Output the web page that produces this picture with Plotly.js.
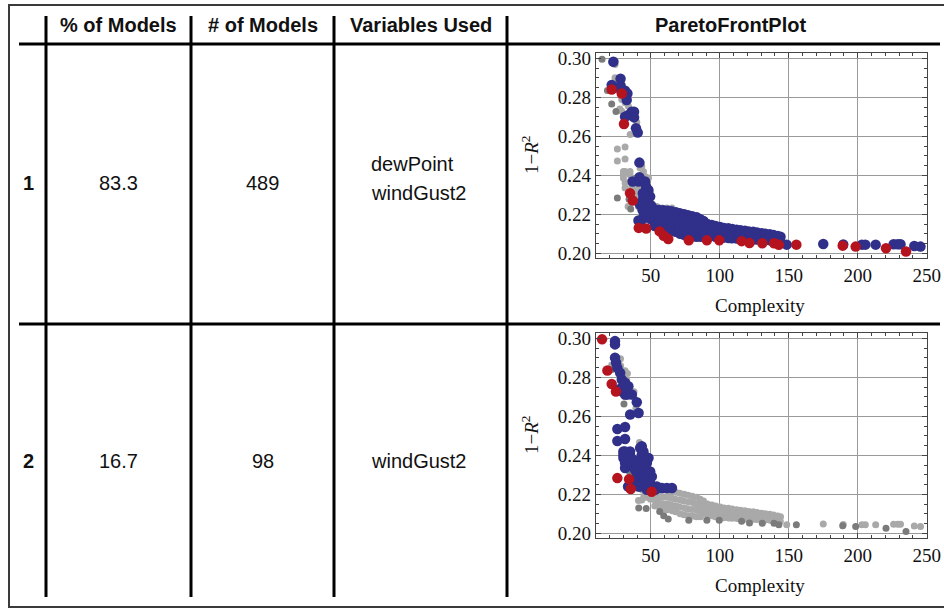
<!DOCTYPE html>
<html><head><meta charset="utf-8">
<script src="https://cdn.plot.ly/plotly-3.0.1.min.js"></script>
<style>html,body{margin:0;padding:0;background:#fff}#chart{width:944px;height:609px}</style>
</head><body><div id="chart"></div>
<script>
// ---------- table content ----------
const headers = ['% of Models', '# of Models', 'Variables Used', 'ParetoFrontPlot'];
const rowIds = ['1', '2'];
const pctModels = ['83.3', '16.7'];
const numModels = ['489', '98'];
const variablesUsed = [['dewPoint', 'windGust2'], ['windGust2']];
const xTickVals = [50, 100, 150, 200, 250];
const yTickVals = [0.20, 0.22, 0.24, 0.26, 0.28, 0.30];

// ---------- set A: models using dewPoint + windGust2 ----------
// Pareto front points (red in plot 1)
const aFrontX = [21.6, 28.9, 30.5, 34.9, 36.9, 41.2, 46.6, 56.4, 59.3, 62.6, 77.5, 90.6, 99.6, 115.8, 121.5, 130.8, 139.3, 142.8, 155.5, 189.1, 198.5, 220.5, 235.0];
const aFrontY = [0.2840, 0.2820, 0.2663, 0.2308, 0.2270, 0.2130, 0.2127, 0.2112, 0.2090, 0.2073, 0.2066, 0.2066, 0.2066, 0.2062, 0.2052, 0.2051, 0.2051, 0.2043, 0.2044, 0.2039, 0.2034, 0.2026, 0.2009];
// other models (navy in plot 1)
const aX = [22.8, 21.6, 24.0, 28.1, 28.0, 31.3, 33.0, 32.5, 36.2, 37.8, 33.7, 31.3, 37.8, 39.2, 40.5, 41.7, 41.0, 36.8, 41.7, 45.8, 46.5, 48.2, 49.4, 44.2, 44.6, 43.4, 42.2, 41.0, 43.4,
  44.5, 44.0, 45.0, 47.3, 47.0, 47.5, 46.8, 50.2, 50.5, 49.8,
  53.0, 52.6, 53.4, 52.8, 56.0, 56.4, 55.8, 56.2, 59.0, 58.6, 59.3, 58.8,
  62.2, 61.8, 62.4, 62.0, 65.0, 65.3, 64.8, 65.5, 68.2, 67.8, 68.4, 68.0,
  71.0, 71.4, 70.8, 71.2, 74.2, 73.8, 74.4, 74.0, 77.0, 77.4, 76.8, 77.2,
  80.0, 80.4, 79.8, 80.2, 83.2, 82.8, 83.4, 83.0, 85.8, 86.2, 85.6, 86.0,
  88.2, 87.8, 88.4, 91.0, 91.4, 90.8, 94.2, 93.8, 94.4, 97.0, 97.4, 96.8,
  100.2, 99.8, 100.4, 103.0, 103.4, 102.8, 106.2, 105.8, 106.4, 109.0, 109.4, 108.8,
  112.2, 111.8, 112.4, 115.0, 115.4, 114.8, 118.2, 117.8, 118.4, 121.0, 121.4, 120.8,
  124.2, 123.8, 124.4, 127.0, 127.4, 126.8, 130.2, 129.8, 130.4, 133.0, 133.4, 132.8,
  136.2, 135.8, 136.4, 139.0, 139.4, 138.8, 142.0, 142.4, 141.8, 144.0, 143.8,
  148.5, 175.0, 189.5, 203.0, 205.5, 213.0, 226.0, 229.0, 231.0, 241.0, 245.5];
const aY = [0.2983, 0.2863, 0.2850, 0.2860, 0.2895, 0.2834, 0.2820, 0.2786, 0.2726, 0.2726, 0.2709, 0.2700, 0.2697, 0.2641, 0.2619, 0.2465, 0.2368, 0.2368, 0.2390, 0.2368, 0.2342, 0.2325, 0.2291, 0.2308, 0.2291, 0.2265, 0.2248, 0.2168, 0.2171,
  0.2255, 0.2220, 0.2190, 0.2290, 0.2255, 0.2220, 0.2185, 0.2245, 0.2210, 0.2175,
  0.2225, 0.2195, 0.2165, 0.2140, 0.2222, 0.2190, 0.2160, 0.2135, 0.2220, 0.2185, 0.2150, 0.2125,
  0.2218, 0.2185, 0.2150, 0.2120, 0.2215, 0.2180, 0.2145, 0.2115, 0.2210, 0.2175, 0.2140, 0.2110,
  0.2205, 0.2170, 0.2135, 0.2100, 0.2200, 0.2165, 0.2130, 0.2095, 0.2195, 0.2160, 0.2125, 0.2090,
  0.2190, 0.2158, 0.2122, 0.2088, 0.2185, 0.2150, 0.2118, 0.2085, 0.2175, 0.2145, 0.2115, 0.2085,
  0.2165, 0.2135, 0.2105, 0.2150, 0.2120, 0.2095, 0.2145, 0.2115, 0.2090, 0.2140, 0.2110, 0.2085,
  0.2135, 0.2105, 0.2080, 0.2130, 0.2105, 0.2080, 0.2128, 0.2100, 0.2078, 0.2125, 0.2100, 0.2077,
  0.2120, 0.2095, 0.2075, 0.2118, 0.2093, 0.2075, 0.2115, 0.2090, 0.2073, 0.2112, 0.2088, 0.2072,
  0.2110, 0.2087, 0.2072, 0.2107, 0.2085, 0.2070, 0.2103, 0.2083, 0.2070, 0.2100, 0.2080, 0.2068,
  0.2097, 0.2078, 0.2066, 0.2093, 0.2076, 0.2064, 0.2088, 0.2072, 0.2060, 0.2085, 0.2062,
  0.2044, 0.2047, 0.2045, 0.2044, 0.2044, 0.2044, 0.2046, 0.2046, 0.2046, 0.2037, 0.2034];

// ---------- set B: models using windGust2 only ----------
const bFrontX = [14.6, 18.5, 21.6, 24.7, 25.7, 34.2, 35.4, 50.6];
const bFrontY = [0.2995, 0.2835, 0.2766, 0.2727, 0.2283, 0.2277, 0.2227, 0.2213];
const bX = [24.0, 24.0, 24.0, 24.8, 25.7, 27.7, 28.9, 31.3, 33.7, 28.9, 31.3, 33.0, 36.2, 27.5, 39.8, 35.0, 41.1, 25.7, 31.3, 25.7, 31.3,
  30.1, 34.9, 30.1, 31.3, 31.3, 34.9, 36.1, 38.5, 42.2, 43.4, 45.8, 42.2, 47.1, 45.8, 42.2, 39.8, 37.3, 42.2, 45.8, 49.5, 50.7, 44.6, 47.1, 53.1, 54.3,
  43.4, 44.6, 48.3, 49.5, 44.6, 41.0, 37.3, 34.9, 31.3, 30.1, 54.4, 58.0, 61.6, 65.3, 43.4, 41.0, 33.5];
const bY = [0.2986, 0.2969, 0.2901, 0.2875, 0.2849, 0.2823, 0.2789, 0.2772, 0.2754, 0.2729, 0.2712, 0.2712, 0.2712, 0.2740, 0.2672, 0.2609, 0.2617, 0.2535, 0.2545, 0.2473, 0.2484,
  0.2420, 0.2420, 0.2386, 0.2360, 0.2335, 0.2368, 0.2343, 0.2326, 0.2437, 0.2403, 0.2394, 0.2368, 0.2360, 0.2326, 0.2309, 0.2291, 0.2266, 0.2240, 0.2240, 0.2257, 0.2291, 0.2274, 0.2223, 0.2223, 0.2240,
  0.2446, 0.2420, 0.2386, 0.2317, 0.2291, 0.2343, 0.2377, 0.2403, 0.2420, 0.2403, 0.2232, 0.2232, 0.2232, 0.2232, 0.2249, 0.2240, 0.2240];

// ---------- layout helpers (pixel -> paper) ----------
const W = 944, H = 609;
const px = v => v / W;
const py = v => 1 - v / H;

const NAVY = '#30308a', RED = '#b5141e', LGRAY = '#a9a9a9', DGRAY = '#7b7b7b';
const sBig = 10.5, sSmall = 7;

function pts(x, y, color, size, xa, ya) {
  return {x: x, y: y, type: 'scatter', mode: 'markers', xaxis: xa, yaxis: ya,
    marker: {color: color, size: size, line: {width: 0}}, hoverinfo: 'skip', showlegend: false};
}

const traces = [
  pts(bX, bY, LGRAY, sSmall, 'x', 'y'),
  pts(bFrontX, bFrontY, DGRAY, sSmall, 'x', 'y'),
  pts(aX, aY, NAVY, sBig, 'x', 'y'),
  pts(aFrontX, aFrontY, RED, sBig, 'x', 'y'),
  pts(aX, aY, LGRAY, sSmall, 'x2', 'y2'),
  pts(aFrontX, aFrontY, DGRAY, sSmall, 'x2', 'y2'),
  pts(bX, bY, NAVY, sBig, 'x2', 'y2'),
  pts(bFrontX, bFrontY, RED, sBig, 'x2', 'y2')
];

const serif = 'Liberation Serif, Times New Roman, serif';
const sans = 'Liberation Sans, Arial, Helvetica, sans-serif';
const tickFont = {family: serif, size: 19, color: '#111'};
function xAxis(anchor) {
  return {domain: [px(595.7), px(926.7)], anchor: anchor, range: [10, 250],
    tickvals: xTickVals, ticktext: xTickVals.map(String),
    showgrid: true, gridcolor: '#9a9a9a', gridwidth: 1, zeroline: false,
    showline: true, linecolor: '#444', linewidth: 1, mirror: 'ticks',
    ticks: 'inside', ticklen: 5, tickcolor: '#444', tickwidth: 1,
    minor: {ticks: 'inside', ticklen: 3, dtick: 10, tick0: 0, tickcolor: '#444', showgrid: false},
    tickfont: tickFont, fixedrange: true};
}
function yAxis(top, bottom, anchor) {
  return {domain: [py(bottom), py(top)], anchor: anchor, range: [0.1974, 0.3026],
    tickvals: yTickVals, ticktext: yTickVals.map(v => v.toFixed(2)),
    showgrid: true, gridcolor: '#9a9a9a', gridwidth: 1, zeroline: false,
    showline: true, linecolor: '#444', linewidth: 1, mirror: 'ticks',
    ticks: 'inside', ticklen: 5, tickcolor: '#444', tickwidth: 1,
    minor: {ticks: 'inside', ticklen: 3, dtick: 0.005, tick0: 0, tickcolor: '#444', showgrid: false},
    tickfont: tickFont, fixedrange: true};
}

// ---------- table lines ----------
const shapes = [];
function line(x0, y0, x1, y1, w, c) {
  shapes.push({type: 'line', xref: 'paper', yref: 'paper', x0: px(x0), y0: py(y0), x1: px(x1), y1: py(y1),
    line: {color: c || '#000', width: w}});
}
// outer frame
shapes.push({type: 'rect', xref: 'paper', yref: 'paper', x0: px(9), y0: py(607), x1: px(952), y1: py(5),
  line: {color: '#3a3a3a', width: 2}, fillcolor: 'rgba(0,0,0,0)'});
line(19, 44, 940, 44, 3);
line(19, 324, 940, 324, 3);
[46, 191, 334, 507].forEach(x => line(x, 16, x, 597, 3));

// ---------- text ----------
const ann = [];
function txt(t, x, y, opts) {
  ann.push(Object.assign({text: t, xref: 'paper', yref: 'paper', x: px(x), y: py(y), showarrow: false,
    xanchor: 'center', yanchor: 'middle', font: {family: sans, size: 20, color: '#111'}}, opts || {}));
}
const headerCx = [118.5, 262.5, 420.5, 730];
headers.forEach((h, i) => txt('<b>' + h + '</b>', headerCx[i], 25));
const rowCy = [183, 461];
rowIds.forEach((r, i) => {
  txt('<b>' + r + '</b>', 28, rowCy[i]);
  txt(pctModels[i], 118.5, rowCy[i]);
  txt(numModels[i], 262.5, rowCy[i]);
});
// variables used
txt(variablesUsed[0][0], 369, 164, {xanchor: 'left'});
txt(variablesUsed[0][1], 369, 193, {xanchor: 'left'});
txt(variablesUsed[1][0], 419, 461);
// axis titles
[0, 280].forEach(off => {
  txt('1−<i>R</i><sup>2</sup>', 530, 155 + off, {textangle: -90, font: {family: serif, size: 19, color: '#111'}});
  txt('Complexity', 760, 305 + off, {font: {family: serif, size: 19, color: '#111'}});
});

const layout = {
  width: W, height: H, margin: {l: 0, r: 0, t: 0, b: 0},
  paper_bgcolor: '#fff', plot_bgcolor: '#fff', showlegend: false,
  xaxis: xAxis('y'), yaxis: yAxis(53.3, 258.3, 'x'),
  xaxis2: xAxis('y2'), yaxis2: yAxis(333.3, 538.3, 'x2'),
  shapes: shapes, annotations: ann
};
Plotly.newPlot('chart', traces, layout, {displayModeBar: false, staticPlot: true});
</script>
</body></html>
